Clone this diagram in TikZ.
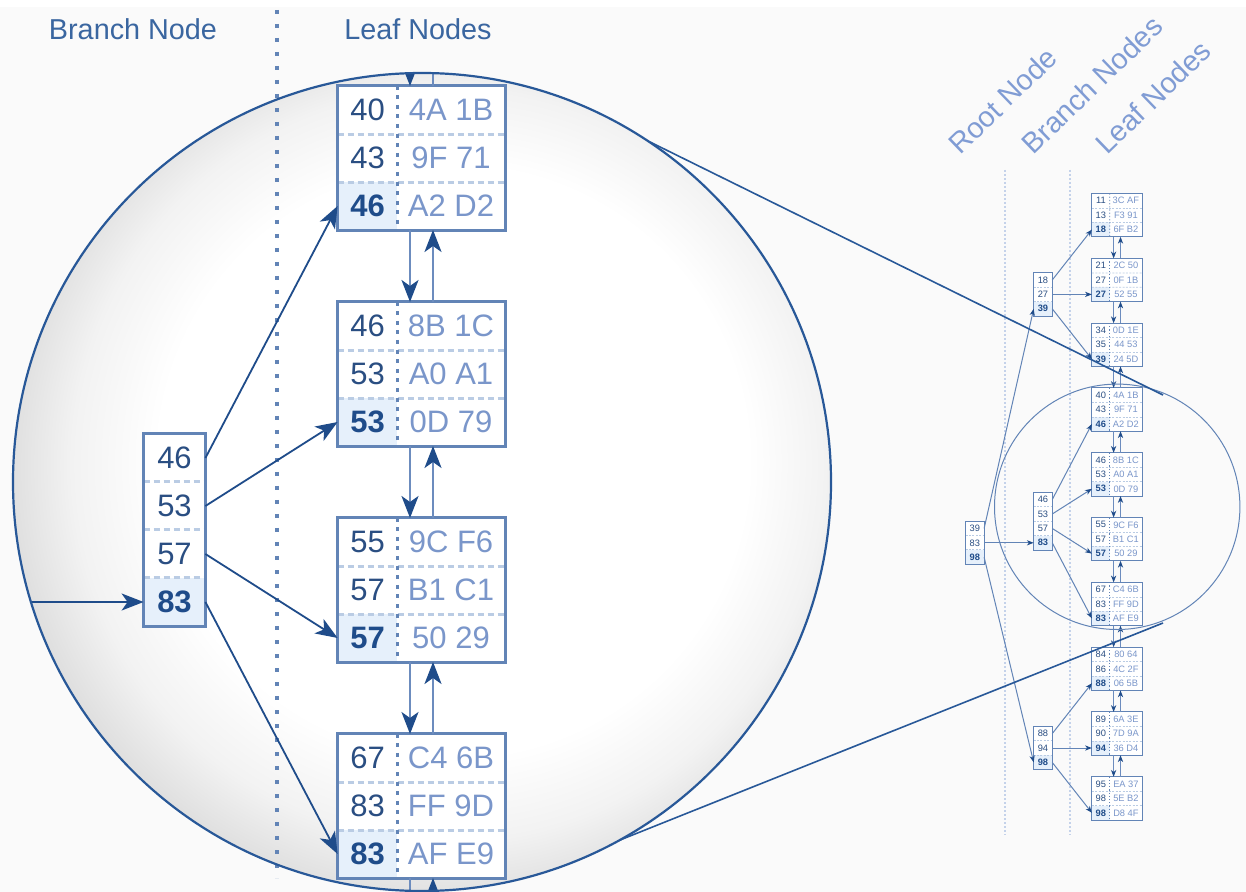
\documentclass[tikz,border=0pt]{standalone}
\usepackage{fontspec}
\setmainfont{Liberation Sans}
\usepackage{xcolor}
\usepackage{tikz}
\usetikzlibrary{arrows.meta}

\definecolor{idxdark}{RGB}{31,76,138}
\definecolor{idxkey}{RGB}{42,78,130}
\definecolor{idxval}{RGB}{122,150,202}
\definecolor{idxline}{RGB}{98,132,182}
\definecolor{idxchain}{RGB}{108,140,190}
\definecolor{idxdash}{RGB}{186,204,228}
\definecolor{idxfill}{RGB}{230,240,251}
\definecolor{idxhead}{RGB}{58,102,160}
\definecolor{idxsoft}{RGB}{128,156,212}
\definecolor{idxrim}{RGB}{40,88,152}
\definecolor{idxdot}{RGB}{196,210,234}
\definecolor{bgcol}{RGB}{250,250,250}

\pgfdeclareradialshading{lens}{\pgfpoint{3bp}{2bp}}{color(0bp)=(white); color(18bp)=(white); color(23bp)=(gray!10); color(29bp)=(gray!35); color(50bp)=(gray!35)}

\newcommand{\keyfont}{\fontsize{15.5}{18}\selectfont}
\newcommand{\headfont}{\fontsize{14.4}{17}\selectfont}

% leaf block: name, top, key/value rows
\newcommand{\leafbox}[3]{%
  \foreach \k/\v [count=\r] in {#3} {
    \ifnum\r=3\relax \tikzset{kcur/.style={keyhit}}\else \tikzset{kcur/.style={keycell}}\fi
    \node[kcur] (#1k\r) at (367.5,#2+48*\r-24) {\k};
    \node[valcell] (#1v\r) at (451,#2+48*\r-24) {\v};
  }
  \foreach \r in {1,2}
    \draw[rowsep] (#1k\r.south west) -- (#1v\r.south east);
  \draw[keysep] (#1k1.north east) -- (#1k3.south east);
  \draw[boxline] (#1k1.north west) rectangle (#1v3.south east);
  \coordinate (#1a) at (410,#2);
  \coordinate (#1b) at (433,#2);
  \coordinate (#1c) at (410,#2+144);
  \coordinate (#1d) at (433,#2+144);
}
% branch/root block: name, left, top, rows, keys
\newcommand{\innerbox}[5]{%
  \foreach \k [count=\r] in {#5} {
    \ifnum\r=#4\relax \tikzset{kcur/.style={keyhit}}\else \tikzset{kcur/.style={keycell}}\fi
    \node[kcur, minimum width=30.5pt] (#1k\r) at (#2+30.5,#3+48*\r-24) {\k};
  }
  \foreach \r in {2,...,#4}
    \draw[rowsep] (#1k\r.north west) -- (#1k\r.north east);
  \draw[boxline] (#1k1.north west) rectangle (#1k#4.south east);
}

\begin{document}
\begin{tikzpicture}[
  x=0.5pt, y=-0.5pt,
  keycell/.style={inner sep=0pt, minimum width=29.5pt, minimum height=24pt, fill=white, text=idxkey, font=\keyfont},
  keyhit/.style={keycell, fill=idxfill, text=idxdark, font=\keyfont\bfseries},
  valcell/.style={inner sep=0pt, minimum width=54pt, minimum height=24pt, fill=white, text=idxval, font=\keyfont},
  rowsep/.style={draw=idxdash, line width=1.3pt, dash pattern=on 3pt off 2pt},
  keysep/.style={draw=idxline, line width=1.5pt, dash pattern=on 2pt off 2.8pt},
  boxline/.style={draw=idxline, line width=1.3pt},
  link/.style={draw=idxdark, line width=0.9pt, -{Stealth[length=11pt, width=8.5pt, inset=3pt]}},
  leafchain/.style={draw=idxchain, line width=1.3pt, -{Stealth[length=11pt, width=8.5pt, inset=3pt, color=idxdark]}},
  rim/.style={draw=idxrim, line width=1.1pt},
  divider/.style={draw=idxline, line width=1.6pt, dash pattern=on 2.2pt off 4.8pt},
  coldots/.style={draw=idxdot, line width=0.9pt, dash pattern=on 1pt off 1pt},
  zoomline/.style={draw=idxrim, line width=0.8pt},
  headlbl/.style={text=idxhead, font=\headfont},
  slanted/.style={text=idxsoft, font=\headfont, rotate=44, anchor=base west, inner sep=0pt}
]
  \useasboundingbox (0,0) rectangle (1246,892);
  \fill[bgcol] (0,7) rectangle (1246,892);

  % magnified part
  \shade[shading=lens] (422,482) circle (409);
  \draw[divider] (277,10) -- (277,878);
  \node[headlbl] (hbranch) at (133,29) {Branch Node};
  \node[headlbl] (hleaf) at (418,29) {Leaf Nodes};

  \leafbox{L4}{86}{40/4A 1B,43/9F 71,46/A2 D2}
  \leafbox{L5}{302}{46/8B 1C,53/A0 A1,53/0D 79}
  \leafbox{L6}{518}{55/9C F6,57/B1 C1,57/50 29}
  \leafbox{L7}{734}{67/C4 6B,83/FF 9D,83/AF E9}
  \innerbox{B2}{144}{434}{4}{46,53,57,83}

  \foreach \r/\l in {1/4,2/5,3/6,4/7}
    \draw[link] (B2k\r.east) -- (L\l k3.west);
  \foreach \i/\j in {4/5,5/6,6/7} {
    \draw[leafchain] (L\i c) -- (L\j a);
    \draw[leafchain] (L\j b) -- (L\i d);
  }
  \begin{scope}
    \clip (422,482) circle (409);
    \coordinate (topin) at (410,10);
    \coordinate (topout) at (433,10);
    \coordinate (botout) at (410,960);
    \coordinate (botin) at (433,960);
    \coordinate (rootin) at (-22,602);
    \draw[leafchain] (topin) -- (L4a);
    \draw[leafchain] (L4b) -- (topout);
    \draw[leafchain] (L7c) -- (botout);
    \draw[leafchain] (botin) -- (L7d);
    \draw[link] (rootin) -- (B2k4.west);
  \end{scope}
  \draw[rim] (422,482) circle (409);

  % whole tree
  \node[slanted] (troot) at (960,156) {Root Node};
  \node[slanted] (tbranch) at (1033,156) {Branch Nodes};
  \node[slanted] (tleaf) at (1107,156) {Leaf Nodes};
  \draw[coldots] (1005,170) -- (1005,835);
  \draw[coldots] (1070,170) -- (1070,835);

  \begin{scope}[shift={(990.6,362.2)}, scale=0.3, transform shape,
    boxline/.style={draw=idxline, line width=0.5pt},
    rowsep/.style={draw=idxdash, line width=0.4pt, dash pattern=on 1pt off 0.7pt},
    keysep/.style={draw=idxline, line width=0.4pt, dash pattern=on 0.6pt off 1pt},
    link/.style={draw=idxline, line width=0.5pt, -{Stealth[length=3.4pt, width=2.6pt, inset=1pt, color=idxdark]}},
    leafchain/.style={draw=idxchain, line width=0.5pt, -{Stealth[length=3.4pt, width=2.6pt, inset=1pt, color=idxdark]}},
    rim/.style={draw=idxline, line width=0.5pt}]
    \leafbox{sL1}{-562}{11/3C AF,13/F3 91,18/6F B2}
    \leafbox{sL2}{-346}{21/2C 50,27/0F 1B,27/52 55}
    \leafbox{sL3}{-130}{34/0D 1E,35/44 53,39/24 5D}
    \leafbox{sL4}{86}{40/4A 1B,43/9F 71,46/A2 D2}
    \leafbox{sL5}{302}{46/8B 1C,53/A0 A1,53/0D 79}
    \leafbox{sL6}{518}{55/9C F6,57/B1 C1,57/50 29}
    \leafbox{sL7}{734}{67/C4 6B,83/FF 9D,83/AF E9}
    \leafbox{sL8}{950}{84/80 64,86/4C 2F,88/06 5B}
    \leafbox{sL9}{1166}{89/6A 3E,90/7D 9A,94/36 D4}
    \leafbox{sL10}{1382}{95/EA 37,98/5E B2,98/D8 4F}
    \innerbox{sB1}{144}{-298}{3}{18,27,39}
    \innerbox{sB2}{144}{434}{4}{46,53,57,83}
    \innerbox{sB3}{144}{1214}{3}{88,94,98}
    \innerbox{sR}{-83}{530}{3}{39,83,98}

    \foreach \i [evaluate=\i as \j using int(\i+1)] in {1,...,9} {
      \draw[leafchain] (sL\i c) -- (sL\j a);
      \draw[leafchain] (sL\j b) -- (sL\i d);
    }
    \foreach \r/\l in {1/1,2/2,3/3}
      \draw[link] (sB1k\r.east) -- (sL\l k3.west);
    \foreach \r/\l in {1/4,2/5,3/6,4/7}
      \draw[link] (sB2k\r.east) -- (sL\l k3.west);
    \foreach \r/\l in {1/8,2/9,3/10}
      \draw[link] (sB3k\r.east) -- (sL\l k3.west);
    \draw[link] (sRk1.east) -- (sB1k3.west);
    \draw[link] (sRk2.east) -- (sB2k4.west);
    \draw[link] (sRk3.east) -- (sB3k3.west);
    \draw[rim] (422,482) circle (409);
  \end{scope}

  % zoom lines
  \coordinate (zt) at (650,142);
  \coordinate (zb) at (620,840);
  \coordinate (st) at (1163,395);
  \coordinate (sb) at (1163,623);
  \draw[zoomline] (zt) -- (st);
  \draw[zoomline] (zb) -- (sb);
\end{tikzpicture}
\end{document}
